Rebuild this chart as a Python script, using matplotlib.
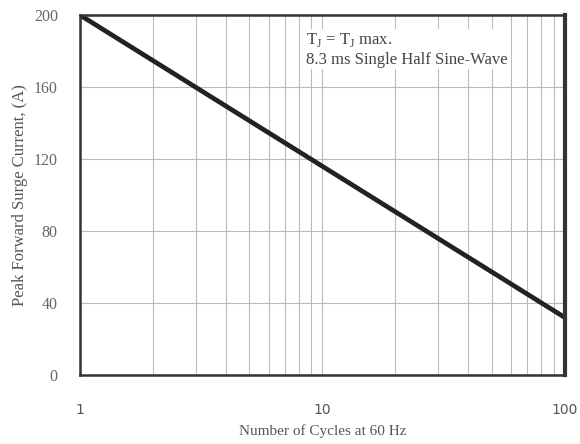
import numpy as np
import matplotlib
matplotlib.use("Agg")
from matplotlib import pyplot as plt

cycles = [1, 10, 100]
current = [200, 116, 32]

yticks = [0, 40, 80, 120, 160, 200]
xticks = [1, 10, 100]

plt.rcParams['font.family'] = ['Liberation Serif', 'DejaVu Serif']

fig = plt.figure(figsize=(5.8, 4.44), dpi=100)
ax = fig.add_axes([0.138, 0.155, 0.836, 0.811])

ax.plot(cycles, current, color='#222222', lw=3.4, solid_capstyle='butt')

ax.set_xscale('log')
ax.set_xlim(1, 100)
ax.set_ylim(0, 200)
ax.set_yticks(yticks)
ax.set_xticks(xticks)
ax.set_xticklabels([str(t) for t in xticks], family='DejaVu Sans', color='#555555', fontsize=10)
ax.set_yticklabels([str(t) for t in yticks], color='#666666', fontsize=11.5)
ax.tick_params(axis='both', length=0)
ax.tick_params(axis='x', pad=20)
ax.tick_params(axis='y', pad=16)
ax.xaxis.set_minor_formatter(plt.NullFormatter())
ax.tick_params(axis='x', which='minor', length=0)

ax.grid(True, which='both', axis='x', color='#bbbbbb', lw=0.8)
ax.grid(True, which='major', axis='y', color='#bbbbbb', lw=0.8)

for s in ax.spines.values():
    s.set_linewidth(1.8)
    s.set_color('#333333')
ax.spines['right'].set_linewidth(3)

ax.set_xlabel('Number of Cycles at 60 Hz', color='#555555', fontsize=11, labelpad=5)
ax.set_ylabel('Peak Forward Surge Current, (A)', color='#555555', fontsize=12, labelpad=4)

ax.text(0.465, 0.955, 'T$_\\mathregular{J}$ = T$_\\mathregular{J}$ max.\n8.3 ms Single Half Sine-Wave',
        transform=ax.transAxes, ha='left', va='top', fontsize=12, color='#444444',
        linespacing=1.2, bbox=dict(facecolor='white', edgecolor='none', pad=1))

fig.savefig('out.png', dpi=100)
